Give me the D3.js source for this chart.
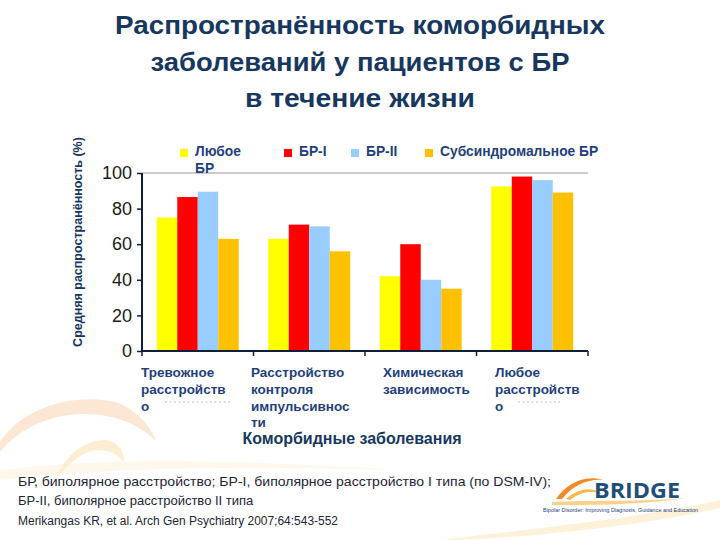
<!DOCTYPE html>
<html><head><meta charset="utf-8">
<script src="https://cdn.jsdelivr.net/npm/d3@7"></script>
<style>html,body{margin:0;padding:0;background:#fff;}svg{display:block;}</style>
</head><body>
<svg id="c" width="720" height="540"></svg>
<script>
// ---- data ----
const categories = ["Тревожное расстройство", "Расстройство контроля импульсивности", "Химическая зависимость", "Любое расстройство"];
const categoryLines = [["Тревожное", "расстройств", "о"], ["Расстройство", "контроля", "импульсивнос", "ти"], ["Химическая", "зависимость"], ["Любое", "расстройств", "о"]];
const seriesNames = ["Любое БР", "БР-I", "БР-II", "Субсиндромальное БР"];
const anyBP = [75, 63, 42, 92.5];
const bpI = [86.5, 71, 60, 98];
const bpII = [89.5, 70, 40, 96];
const subBP = [63, 56, 35, 89];
const seriesValues = [anyBP, bpI, bpII, subBP];
const yTicks = [0, 20, 40, 60, 80, 100];
const colors = ["#FFFF00", "#FF0000", "#99CCFF", "#FFC000"];

const navy = "#17375E";
const svg = d3.select("#c");
const font = "'Liberation Sans', Arial, sans-serif";

// ---- background swooshes ----
const bg = svg.append("g");
bg.append("path").attr("d", "M0,442 C20,410 70,392 115,402 C135,408 150,425 156,441 C140,425 115,414 85,414 C50,414 20,428 0,452 Z")
  .attr("fill", "#F6C9A0").attr("opacity", 0.45);
bg.append("path").attr("d", "M55,480 C65,455 85,440 105,440 C118,441 125,452 124,462 C115,450 100,448 88,452 C75,458 64,468 55,480 Z")
  .attr("fill", "#FBE3B5").attr("opacity", 0.6);
bg.append("path").attr("d", "M0,470 C120,455 260,462 400,470 C260,466 120,466 0,480 Z")
  .attr("fill", "#FBE7C6").attr("opacity", 0.35);
bg.append("path").attr("d", "M440,540 C540,528 640,518 720,500 L720,508 C640,526 540,536 460,540 Z")
  .attr("fill", "#FBE3B5").attr("opacity", 0.5);

// ---- title ----
const titleLines = ["Распространённость коморбидных", "заболеваний у пациентов с БР", "в течение жизни"];
const titleLen = [490, 419, 230];
svg.append("g").selectAll("text").data(titleLines).join("text")
  .attr("x", 360).attr("y", (d, i) => 34 + i * 36.5)
  .attr("text-anchor", "middle").attr("font-family", font).attr("font-weight", "bold")
  .attr("font-size", 26).attr("fill", navy)
  .attr("textLength", (d, i) => titleLen[i]).attr("lengthAdjust", "spacingAndGlyphs")
  .text(d => d);

// ---- scales ----
const x0 = d3.scaleBand().domain(categories).range([142, 588]).paddingInner(0.265).paddingOuter(0.1325);
const x1 = d3.scaleBand().domain(seriesNames).range([0, x0.bandwidth()]).padding(0);
const y = d3.scaleLinear().domain([0, 100]).range([351, 173]);

// top gridline
svg.append("line").attr("x1", 142).attr("x2", 588).attr("y1", y(100)).attr("y2", y(100))
  .attr("stroke", "#9a9a9a").attr("stroke-width", 1);

// bars
const groups = svg.append("g").selectAll("g").data(categories).join("g")
  .attr("transform", c => `translate(${x0(c)},0)`);
groups.selectAll("rect").data((c, ci) => seriesNames.map((s, si) => ({s, si, v: seriesValues[si][ci]}))).join("rect")
  .attr("x", d => x1(d.s)).attr("width", x1.bandwidth())
  .attr("y", d => y(d.v)).attr("height", d => y(0) - y(d.v))
  .attr("fill", d => colors[d.si]);

// y axis
const yAxis = svg.append("g").attr("transform", "translate(142,0)")
  .call(d3.axisLeft(y).tickValues(yTicks).tickSize(5).tickPadding(5));
yAxis.select(".domain").attr("stroke", "#0f1f3a").attr("stroke-width", 2).attr("d", `M0,${y(0)}V${y(100)}`);
yAxis.selectAll(".tick line").attr("stroke", "#0f1f3a").attr("stroke-width", 1.5);
yAxis.selectAll(".tick text").attr("font-family", font).attr("font-size", 18).attr("fill", "#1a1a1a");

// x axis
const step = x0.step();
const boundaries = categories.map(c => x0(c) - step * x0.paddingInner() / 2).concat([x0.range()[1]]);
const xAxis = svg.append("g");
xAxis.append("line").attr("x1", 142).attr("x2", 588).attr("y1", y(0)).attr("y2", y(0))
  .attr("stroke", "#0f1f3a").attr("stroke-width", 2);
xAxis.selectAll("line.tk").data(boundaries).join("line").attr("class", "tk")
  .attr("x1", d => d).attr("x2", d => d).attr("y1", y(0)).attr("y2", y(0) + 5)
  .attr("stroke", "#0f1f3a").attr("stroke-width", 1.5);

// category labels
const labelX = [141, 251, 383, 495];
const labG = svg.append("g");
categories.forEach((c, i) => {
  labG.append("g").selectAll("text").data(categoryLines[i]).join("text")
    .attr("x", labelX[i]).attr("y", (d, j) => 377 + j * 16.8)
    .attr("font-family", font).attr("font-weight", "bold").attr("font-size", 13.5)
    .attr("fill", "#1F3F7A").text(d => d);
});
// faint hidden-line remnants
[[165, 232, 402], [518, 560, 402]].forEach(([a, b, yy]) => {
  svg.append("line").attr("x1", a).attr("x2", b).attr("y1", yy).attr("y2", yy)
    .attr("stroke", "#b9bfcc").attr("stroke-width", 1).attr("stroke-dasharray", "2,2.5");
});

svg.append("text").attr("x", 352).attr("y", 444).attr("text-anchor", "middle")
  .attr("font-family", font).attr("font-weight", "bold").attr("font-size", 16)
  .attr("fill", navy).text("Коморбидные заболевания");

// y axis title
svg.append("text").attr("transform", "translate(82,242) rotate(-90)").attr("text-anchor", "middle")
  .attr("font-family", font).attr("font-weight", "bold").attr("font-size", 12.5)
  .attr("fill", navy).text("Средняя распространённость (%)");

// legend
const legX = [180, 284, 351, 425];
const leg = svg.append("g");
seriesNames.forEach((s, i) => {
  leg.append("rect").attr("x", legX[i]).attr("y", 149).attr("width", 8).attr("height", 8).attr("fill", colors[i]);
  const lines = i === 0 ? ["Любое", "БР"] : [s];
  leg.append("g").selectAll("text").data(lines).join("text")
    .attr("x", legX[i] + 15).attr("y", (d, j) => 156 + j * 16.5)
    .attr("font-family", font).attr("font-weight", "bold").attr("font-size", 13.8)
    .attr("fill", "#1F3F7A").text(d => d);
});

// footnotes
const foot = ["БР, биполярное расстройство; БР-I, биполярное расстройство I типа (по DSM-IV);", "БР-II, биполярное расстройство II типа"];
svg.append("g").selectAll("text").data(foot).join("text")
  .attr("x", 18).attr("y", (d, i) => 486 + i * 19)
  .attr("font-family", font).attr("font-size", 13).attr("fill", "#1d2536")
  .attr("textLength", (d, i) => i === 0 ? 533 : null).attr("lengthAdjust", "spacingAndGlyphs")
  .text(d => d);
svg.append("text").attr("x", 18).attr("y", 525).attr("font-family", font).attr("font-size", 12)
  .attr("fill", "#1d2536").attr("textLength", 320).attr("lengthAdjust", "spacingAndGlyphs")
  .text("Merikangas KR, et al. Arch Gen Psychiatry 2007;64:543-552");

// BRIDGE logo
const logo = svg.append("g");
logo.append("path").attr("d", "M556,499 C566,484 584,474 604,480 C588,478 572,486 562,499 Z").attr("fill", "#F08A24");
logo.append("path").attr("d", "M566,499 C578,488 592,486 602,494 C592,490 580,492 570,500 Z").attr("fill", "#F7B74A");
logo.append("path").attr("d", "M552,502 C590,500 640,502 688,498 C640,505 590,505 552,505 Z").attr("fill", "#F7C56A").attr("opacity", 0.8);
logo.append("text").attr("x", 594).attr("y", 498).attr("font-family", "'Open Sans', " + font)
  .attr("font-weight", "bold").attr("font-size", 21).attr("fill", "#1F4E79")
  .attr("textLength", 86).attr("lengthAdjust", "spacingAndGlyphs").text("BRIDGE");
logo.append("text").attr("x", 543).attr("y", 512).attr("font-family", font).attr("font-size", 5.5)
  .attr("fill", "#1F3F7A").attr("textLength", 155).attr("lengthAdjust", "spacingAndGlyphs")
  .text("Bipolar Disorder: Improving Diagnosis, Guidance and Education");
</script>
</body></html>
